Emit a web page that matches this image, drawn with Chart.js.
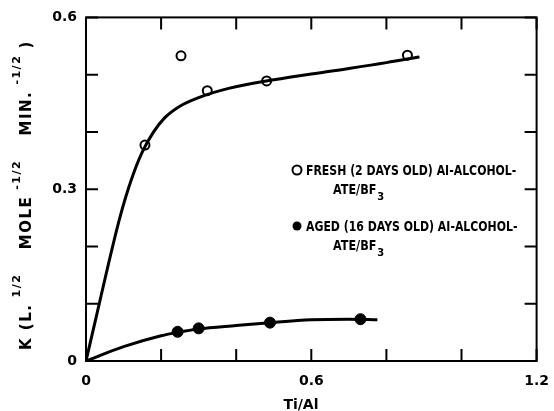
<!DOCTYPE html>
<html>
<head>
<meta charset="utf-8">
<script src="https://cdn.jsdelivr.net/npm/chart.js@4.4.0/dist/chart.umd.min.js"></script>
<style>
    html, body { margin: 0; padding: 0; background: #fff; }
    #wrap { width: 554px; height: 411px; position: relative; }
</style>
</head>
<body>
<div id="wrap"><canvas id="kChart" width="554" height="411"></canvas></div>
<script>
// Points mesurés (Ti/Al, K)
const freshX = [0.157, 0.253, 0.323, 0.481, 0.856];
const freshY = [0.377, 0.533, 0.472, 0.489, 0.534];
const agedX = [0.244, 0.300, 0.490, 0.731];
const agedY = [0.051, 0.057, 0.067, 0.073];

// Courbes tracées à la main sur la figure
const freshCurveX = [0, 0.03, 0.06, 0.09, 0.12, 0.15, 0.18, 0.21, 0.25, 0.30, 0.38, 0.5, 0.65, 0.8, 0.888];
const freshCurveY = [0, 0.085, 0.17, 0.25, 0.315, 0.365, 0.400, 0.425, 0.445, 0.460, 0.476, 0.491, 0.506, 0.521, 0.531];
const agedCurveX = [0, 0.1, 0.2, 0.244, 0.3, 0.4, 0.49, 0.6, 0.7, 0.776];
const agedCurveY = [0, 0.025, 0.044, 0.050, 0.056, 0.062, 0.067, 0.072, 0.073, 0.072];

const xLabels = [0, 0.6, 1.2];
const yLabels = [0, 0.3, 0.6];

const FONT = 'DejaVu Sans';
const pts = (xs, ys) => xs.map((x, i) => ({ x: x, y: ys[i] }));
const isLabel = (v, list) => list.some(l => Math.abs(l - v) < 1e-6);

// Cadre + graduations intérieures sur les 4 côtés
const framePlugin = {
    id: 'frame',
    afterDraw(chart) {
        const ctx = chart.ctx;
        const a = chart.chartArea;
        const sx = chart.scales.x, sy = chart.scales.y;
        const len = 12;
        ctx.save();
        ctx.strokeStyle = '#000';
        ctx.lineWidth = 2;
        ctx.strokeRect(a.left, a.top, a.right - a.left, a.bottom - a.top);
        sx.ticks.forEach(t => {
            const px = sx.getPixelForValue(t.value);
            ctx.beginPath();
            ctx.moveTo(px, a.bottom); ctx.lineTo(px, a.bottom - len);
            ctx.moveTo(px, a.top); ctx.lineTo(px, a.top + len);
            ctx.stroke();
        });
        sy.ticks.forEach(t => {
            const py = sy.getPixelForValue(t.value);
            ctx.beginPath();
            ctx.moveTo(a.left, py); ctx.lineTo(a.left + len, py);
            ctx.moveTo(a.right, py); ctx.lineTo(a.right - len, py);
            ctx.stroke();
        });
        ctx.restore();
    }
};

// texte un peu étroit, comme sur la figure
function condensedText(ctx, txt, x, y, squeeze) {
    ctx.save();
    ctx.translate(x, y);
    ctx.scale(squeeze, 1);
    ctx.fillText(txt, 0, 0);
    const w = ctx.measureText(txt).width * squeeze;
    ctx.restore();
    return w;
}

// Textes : titres d'axes (avec exposants) et légende dans le graphique
const textPlugin = {
    id: 'texts',
    afterDraw(chart) {
        const ctx = chart.ctx;
        const a = chart.chartArea;
        ctx.save();
        ctx.fillStyle = '#000';
        ctx.textBaseline = 'alphabetic';

        // Titre X
        ctx.font = 'bold 14px ' + FONT;
        ctx.textAlign = 'center';
        ctx.fillText('Ti/Al', a.left + (a.right - a.left) * 0.477, 409);

        // Titre Y, tourné
        ctx.save();
        ctx.translate(31, 350);
        ctx.rotate(-Math.PI / 2);
        ctx.textAlign = 'left';
        const parts = [
            ['K (L.', 0], ['1/2', 1], ['MOLE', 0], ['-1/2', 1], ['MIN.', 0], ['-1/2', 1], [')', 0]
        ];
        const spacing = 1.5;
        const fontOf = sup => sup ? 'bold 11px ' + FONT : 'bold 15px ' + FONT;
        let natural = 0;
        parts.forEach(([txt, sup]) => {
            ctx.font = fontOf(sup);
            for (const ch of txt) natural += ctx.measureText(ch).width + spacing;
        });
        const partGap = (328 - natural) / (parts.length - 1);
        let cx = 0;
        parts.forEach(([txt, sup], i) => {
            ctx.font = fontOf(sup);
            for (const ch of txt) {
                ctx.fillText(ch, cx, sup ? -11 : 0);
                cx += ctx.measureText(ch).width + spacing;
            }
            // pas d'espace avant les exposants ni avant la parenthèse finale
            const next = parts[i + 1];
            cx += next && (next[1] || next[0] === ')') ? partGap * 0.4 : partGap * 1.6;
        });
        ctx.restore();

        // Légende
        const drawEntry = (filled, y, label) => {
            const mx = 297;
            ctx.beginPath();
            ctx.arc(mx, y - 5, 4.5, 0, Math.PI * 2);
            ctx.lineWidth = 2;
            if (filled) ctx.fill(); else ctx.stroke();
            ctx.textAlign = 'left';
            ctx.font = 'bold 14px ' + FONT;
            condensedText(ctx, label, mx + 9, y, 0.78);
            const w = condensedText(ctx, 'ATE/BF', 333, y + 19, 0.8);
            ctx.font = 'bold 11px ' + FONT;
            condensedText(ctx, '3', 333 + w + 1, y + 25, 0.9);
        };
        drawEntry(false, 175, 'FRESH (2 DAYS OLD) AI-ALCOHOL-');
        drawEntry(true, 231, 'AGED (16 DAYS OLD) AI-ALCOHOL-');
        ctx.restore();
    }
};

new Chart(document.getElementById('kChart'), {
    type: 'scatter',
    data: {
        datasets: [
            {
                label: 'fresh curve',
                data: pts(freshCurveX, freshCurveY),
                showLine: true,
                borderColor: '#000',
                borderWidth: 3,
                pointRadius: 0,
                cubicInterpolationMode: 'monotone'
            },
            {
                label: 'aged curve',
                data: pts(agedCurveX, agedCurveY),
                showLine: true,
                borderColor: '#000',
                borderWidth: 3,
                pointRadius: 0,
                cubicInterpolationMode: 'monotone'
            },
            {
                label: 'FRESH',
                data: pts(freshX, freshY),
                pointRadius: 4.5,
                pointBorderWidth: 2,
                pointBorderColor: '#000',
                pointBackgroundColor: '#fff'
            },
            {
                label: 'AGED',
                data: pts(agedX, agedY),
                pointRadius: 5.5,
                pointBorderWidth: 1,
                pointBorderColor: '#000',
                pointBackgroundColor: '#000'
            }
        ]
    },
    options: {
        responsive: false,
        animation: false,
        devicePixelRatio: 1,
        layout: { padding: { top: 17, right: 10, left: 0, bottom: 0 } },
        plugins: {
            legend: { display: false },
            tooltip: { enabled: false }
        },
        scales: {
            x: {
                type: 'linear',
                min: 0,
                max: 1.2,
                // les marques sont dessinées par framePlugin ; tickLength ne sert qu'à décaler les libellés
                grid: { display: false, drawTicks: true, tickLength: 7 },
                border: { display: false },
                ticks: {
                    stepSize: 0.2,
                    autoSkip: false,
                    maxRotation: 0,
                    padding: 5,
                    color: '#000',
                    font: { family: FONT, size: 14, weight: 'bold' },
                    callback: v => isLabel(v, xLabels) ? String(Math.round(v * 10) / 10) : ''
                },
                afterFit: s => { s.height = 50; }
            },
            y: {
                type: 'linear',
                min: 0,
                max: 0.6,
                grid: { display: false, drawTicks: false },
                border: { display: false },
                ticks: {
                    stepSize: 0.1,
                    autoSkip: false,
                    padding: 9,
                    color: '#000',
                    font: { family: FONT, size: 14, weight: 'bold' },
                    callback: v => isLabel(v, yLabels) ? String(Math.round(v * 10) / 10) : ''
                },
                afterFit: s => { s.width = 86; }
            }
        }
    },
    plugins: [framePlugin, textPlugin]
});
</script>
</body>
</html>
